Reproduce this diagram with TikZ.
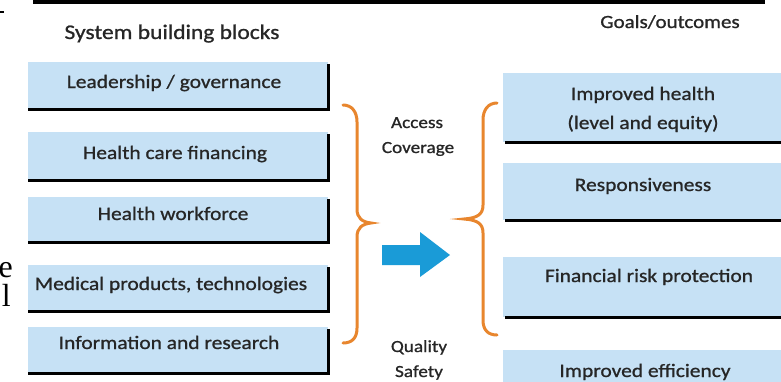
\documentclass[tikz,border=0pt]{standalone}
\usepackage{fontspec}
\setmainfont{Carlito}
\newfontfamily\diagfont{Carlito}[FakeStretch=1.13, FakeBold=0.9]
\newfontfamily\strayfont{Liberation Serif}
\definecolor{boxblue}{RGB}{198,225,245}
\definecolor{txtgray}{RGB}{38,38,38}
\definecolor{braceorange}{RGB}{232,134,46}
\definecolor{arrowblue}{RGB}{26,155,215}
\begin{document}
\begin{tikzpicture}[x=1pt,y=-1pt,
  lbox/.style={fill=boxblue, minimum width=300pt, inner sep=0pt, anchor=north west},
  rbox/.style={fill=boxblue, minimum width=300pt, inner sep=0pt, anchor=north west},
  shadowline/.style={draw=black, line width=2.4pt},
  btext/.style={text=txtgray, font=\diagfont\fontsize{19}{22}\selectfont, inner sep=0pt, anchor=base},
  stext/.style={text=txtgray, font=\diagfont\fontsize{17}{20}\selectfont, inner sep=0pt, anchor=base},
  strayglyph/.style={font=\strayfont\fontsize{32}{32}\selectfont, anchor=base east, inner sep=0pt, text height=20pt, text depth=0pt},
  bracepath/.style={draw=braceorange, line width=3pt, line cap=round},
]
\useasboundingbox (0,0) rectangle (781,381);
\fill[white] (0,0) rectangle (781,381);

% top bar and stray marks
\fill[black] (33,0) rectangle (765,4);
\draw[black, line width=1.2pt] (0,12) -- (4,12);
\begin{scope}
  \clip (0,240) rectangle (20,320);
  \node[strayglyph] (se) at (13,277) {e};
  \node[strayglyph] (sl) at (11,306) {l};
\end{scope}

% headings
\node[btext, font=\diagfont\fontsize{20.8}{24}\selectfont] (hl) at (172,39) {System building blocks};
\node[btext, font=\diagfont\fontsize{18.6}{22}\selectfont] (hr) at (670,28) {Goals/outcomes};

% left boxes
\node[lbox, minimum height=47pt] (b1) at (28,62) {};
\node[lbox, minimum height=48pt] (b2) at (28,132) {};
\node[lbox, minimum height=45pt] (b3) at (28,197) {};
\node[lbox, minimum height=46pt] (b4) at (28,265) {};
\node[lbox, minimum height=46pt] (b5) at (28,327) {};
\foreach \b in {b1,b2,b3,b4,b5}{
  \draw[shadowline] (\b.south west) -- (\b.south east) -- ([yshift=-2pt]\b.north east);
}
\node[btext] (t1) at (174,88) {Leadership / governance};
\node[btext] (t2) at (175,159) {Health care financing};
\node[btext] (t3) at (173,220) {Health workforce};
\node[btext] (t4) at (171,290) {Medical products, technologies};
\node[btext] (t5) at (169,349) {Information and research};

% right boxes
\node[rbox, minimum height=69pt] (r1) at (503,73) {};
\node[rbox, minimum height=57pt] (r2) at (503,163) {};
\node[rbox, minimum height=60pt] (r3) at (503,257) {};
\node[rbox, minimum height=60pt] (r4) at (503,350) {};
\foreach \b in {r1,r2,r3}{
  \draw[shadowline] ([xshift=2pt]\b.south west) -- (\b.south east);
}
\node[btext] (u1) at (643,100) {Improved health};
\node[btext] (u1b) at (643,129) {(level and equity)};
\node[btext] (u2) at (643,191) {Responsiveness};
\node[btext] (u3) at (649,282) {Financial risk protection};
\node[btext] (u4) at (645,377) {Improved efficiency};

% middle labels
\node[stext] (acc) at (417,128) {Access};
\node[stext] (cov) at (418,153) {Coverage};
\node[stext] (qual) at (419,352) {Quality};
\node[stext] (saf) at (419,377) {Safety};

% braces
\coordinate (lbtop) at (343,105);
\coordinate (lbtip) at (371,223);
\coordinate (lbbot) at (343,343);
\draw[bracepath] (lbtop) .. controls (352,105) and (357,112) .. (357,122)
  -- (357,209) .. controls (357,218) and (362,222) .. (lbtip)
  .. controls (362,224) and (357,228) .. (357,237)
  -- (357,328) .. controls (357,338) and (352,343) .. (lbbot);
\coordinate (rbtop) at (497,103);
\coordinate (rbtip) at (464,219);
\coordinate (rbbot) at (497,335);
\draw[bracepath] (rbtop) .. controls (488,103) and (483,110) .. (483,120)
  -- (483,205) .. controls (483,214) and (478,218) .. (rbtip)
  .. controls (478,220) and (483,224) .. (483,233)
  -- (483,320) .. controls (483,330) and (488,335) .. (rbbot);

% arrow
\fill[arrowblue] (382,245) -- (420,245) -- (420,232) -- (450,255) -- (420,277) -- (420,265) -- (382,265) -- cycle;
\end{tikzpicture}
\end{document}
